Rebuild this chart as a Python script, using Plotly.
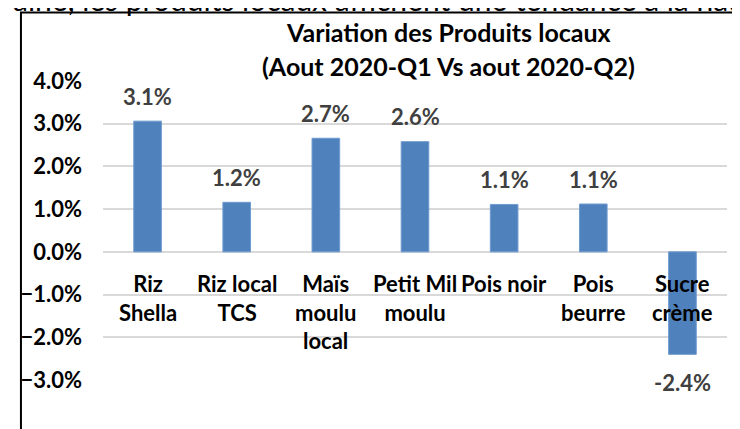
import plotly.graph_objects as go

categories = ["Riz<br>Shella", "Riz local<br>TCS", "Maïs<br>moulu<br>local", "Petit Mil<br>moulu",
              "Pois noir", "Pois<br>beurre", "Sucre<br>crème"]
values = [0.0306, 0.0116, 0.0266, 0.0258, 0.0111, 0.0112, -0.0240]
y_ticks = [-0.03, -0.02, -0.01, 0.0, 0.01, 0.02, 0.03, 0.04]
title_lines = ["Variation des Produits locaux", "(Aout 2020-Q1 Vs aout 2020-Q2)"]
top_text = "aine, les produits locaux affichent une tendance à la hausse"

W, H = 740, 429
OFF = 8  # page body offset
# target screen pixels of plot area
SX0, SX1, SY0, SY1 = 92, 727, 81, 380
L, T = SX0 - OFF, SY0 - OFF
R, B = W - (SX1 - OFF), H - (SY1 - OFF)
PW, PH = SX1 - SX0, SY1 - SY0

def px_x(p):
    return (p - SX0) / PW

def px_y(p):
    return (SY1 - p) / PH

FONT = "Lato"
fig = go.Figure()
fig.add_trace(go.Bar(
    x=categories, y=values,
    marker=dict(color="#4f81bd", line=dict(color="#6f9bd0", width=1)),
    width=0.31, hoverinfo="skip",
))

annotations = []
for c, v in zip(categories, values):
    annotations.append(dict(
        x=c, y=v, xref="x", yref="y", text=f"{round(v*100, 1):.1f}%", showarrow=False,
        yanchor="middle", yshift=25 if v >= 0 else -28,
        font=dict(family=FONT, size=22, color="#404040", weight="bold"),
    ))
    annotations.append(dict(
        x=c, y=0, xref="x", yref="y", text=c, showarrow=False,
        yanchor="top", yshift=-16,
        font=dict(family=FONT, size=22, color="#000000", weight="bold"),
    ))

for i, line in enumerate(title_lines):
    annotations.append(dict(
        x=px_x(444), y=px_y([32, 66][i]), xref="paper", yref="paper", text=line,
        showarrow=False, xanchor="center", yanchor="middle",
        font=dict(family=FONT, size=25, color="#000000", weight="bold"),
    ))

annotations.append(dict(
    x=px_x(-2), y=px_y(19), xref="paper", yref="paper", text=top_text,
    showarrow=False, xanchor="left", yanchor="bottom",
    font=dict(family=FONT, size=30, color="#000000"),
))

fig.update_layout(
    width=W, height=H,
    margin=dict(l=L, r=R, t=T, b=B, pad=0),
    paper_bgcolor="white", plot_bgcolor="white",
    showlegend=False,
    annotations=annotations,
    shapes=[dict(type="rect", xref="paper", yref="paper",
                 x0=px_x(8.5), x1=px_x(770), y0=px_y(470), y1=px_y(12.5),
                 line=dict(color="#000000", width=2), layer="below")],
    xaxis=dict(showticklabels=False, showgrid=False, zeroline=False, showline=False,
               range=[-0.5, len(categories) - 0.5]),
    yaxis=dict(range=[-0.03, 0.04], tickvals=y_ticks, tickformat=".1%",
               showgrid=True, gridcolor="#d9d9d9", gridwidth=1.5,
               zeroline=True, zerolinecolor="#d9d9d9", zerolinewidth=1.5,
               showline=False, ticks="", ticklabelstandoff=20,
               tickfont=dict(family=FONT, size=22, color="#000000", weight="bold")),
)

fig.write_html("out.html")
